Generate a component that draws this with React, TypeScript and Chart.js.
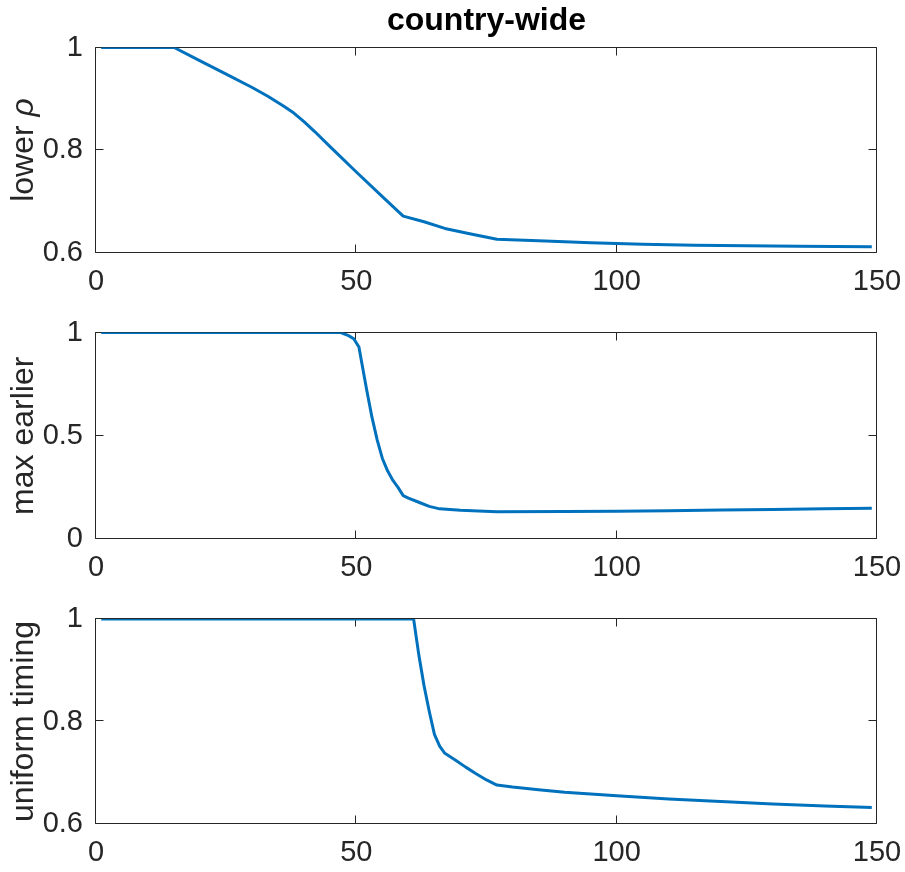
import React, { useEffect, useRef } from "react";
import { Chart, registerables } from "chart.js";

Chart.register(...registerables);

// Shared x axis (days)
const xTicks = [0, 50, 100, 150];

// lower rho
const lowerRhoX = [1, 15, 20, 25, 30, 33, 36, 38, 40, 42, 45, 50, 55, 59, 63, 67, 72, 77, 85, 95, 105, 115, 125, 135, 149];
const lowerRhoY = [1, 1, 0.974, 0.948, 0.922, 0.905, 0.886, 0.872, 0.855, 0.836, 0.806, 0.757, 0.709, 0.671, 0.66, 0.647, 0.636, 0.626, 0.623, 0.619, 0.616, 0.614, 0.613, 0.612, 0.611];
const lowerRhoTicks = [0.6, 0.8, 1];

// max earlier
const maxEarlierX = [1, 47, 48.5, 49.5, 50.5, 51, 52, 53, 54, 55, 56, 57, 58, 59, 60, 62, 64, 66, 70, 77, 90, 100, 110, 120, 130, 140, 149];
const maxEarlierY = [1, 1, 0.985, 0.97, 0.93, 0.86, 0.72, 0.59, 0.48, 0.39, 0.33, 0.285, 0.25, 0.21, 0.198, 0.178, 0.158, 0.146, 0.139, 0.132, 0.133, 0.134, 0.137, 0.14, 0.143, 0.146, 0.149];
const maxEarlierTicks = [0, 0.5, 1];

// uniform timing
const uniformX = [1, 61, 62, 63, 64, 65, 66, 67, 69, 71, 73, 75, 77, 80, 85, 90, 100, 110, 120, 130, 140, 149];
const uniformY = [1, 1, 0.93, 0.87, 0.82, 0.775, 0.752, 0.738, 0.725, 0.711, 0.698, 0.686, 0.676, 0.672, 0.667, 0.662, 0.655, 0.649, 0.644, 0.639, 0.635, 0.632];
const uniformTicks = [0.6, 0.8, 1];

const INK = "#262626";
const LINE = "#0072BD";
const FONT = "'Liberation Sans', Arial, Helvetica, sans-serif";

type LabelPart = { text: string; italic?: boolean };

type Panel = {
  xs: number[];
  ys: number[];
  yMin: number;
  yMax: number;
  yTicks: number[];
  label: LabelPart[];
  title?: string;
  top: number; // canvas offset on the page
  height: number; // canvas height
  areaTop: number; // plot area top inside the canvas
  areaBottom: number; // plot area bottom inside the canvas
};

const panels: Panel[] = [
  {
    xs: lowerRhoX,
    ys: lowerRhoY,
    yMin: 0.6,
    yMax: 1,
    yTicks: lowerRhoTicks,
    label: [{ text: "lower " }, { text: "ρ", italic: true }],
    title: "country-wide",
    top: 0,
    height: 300,
    areaTop: 47.5,
    areaBottom: 252.5,
  },
  {
    xs: maxEarlierX,
    ys: maxEarlierY,
    yMin: 0,
    yMax: 1,
    yTicks: maxEarlierTicks,
    label: [{ text: "max earlier" }],
    top: 300,
    height: 290,
    areaTop: 32.5,
    areaBottom: 239,
  },
  {
    xs: uniformX,
    ys: uniformY,
    yMin: 0.6,
    yMax: 1,
    yTicks: uniformTicks,
    label: [{ text: "uniform timing" }],
    top: 590,
    height: 282,
    areaTop: 29,
    areaBottom: 234,
  },
];

const WIDTH = 905;
const AREA_LEFT = 96;
const AREA_RIGHT = 877;
const TICK_LEN = 8;

// Axes box with inward tick marks on all four sides
const boxPlugin = {
  id: "matlabBox",
  beforeDatasetsDraw(chart: any) {
    const { ctx, chartArea } = chart;
    const l = Math.round(chartArea.left) - 0.5;
    const r = Math.round(chartArea.right) - 0.5;
    const t = Math.round(chartArea.top) - 0.5;
    const b = Math.round(chartArea.bottom) - 0.5;
    ctx.save();
    ctx.strokeStyle = INK;
    ctx.lineWidth = 1;
    ctx.beginPath();
    ctx.rect(l, t, r - l, b - t);
    const xs = chart.scales.x;
    xs.ticks.forEach((tk: any) => {
      const px = Math.round(xs.getPixelForValue(tk.value)) - 0.5;
      ctx.moveTo(px, b);
      ctx.lineTo(px, b - TICK_LEN);
      ctx.moveTo(px, t);
      ctx.lineTo(px, t + TICK_LEN);
    });
    const ys = chart.scales.y;
    ys.ticks.forEach((tk: any) => {
      const py = Math.round(ys.getPixelForValue(tk.value)) - 0.5;
      ctx.moveTo(l, py);
      ctx.lineTo(l + TICK_LEN, py);
      ctx.moveTo(r, py);
      ctx.lineTo(r - TICK_LEN, py);
    });
    ctx.stroke();
    ctx.restore();
  },
};

// Rotated y label, allowing italic pieces (e.g. the Greek symbol)
const makeLabelPlugin = (parts: LabelPart[]) => ({
  id: "yLabel",
  afterDraw(chart: any) {
    const { ctx, chartArea } = chart;
    const cy = (chartArea.top + chartArea.bottom) / 2;
    const fontFor = (p: LabelPart) => `${p.italic ? "italic " : ""}32px ${FONT}`;
    ctx.save();
    let total = 0;
    const widths = parts.map((p) => {
      ctx.font = fontFor(p);
      const w = ctx.measureText(p.text).width;
      total += w;
      return w;
    });
    ctx.translate(32.5, cy);
    ctx.rotate(-Math.PI / 2);
    ctx.fillStyle = INK;
    ctx.textBaseline = "alphabetic";
    ctx.textAlign = "left";
    let x = -total / 2;
    parts.forEach((p, i) => {
      ctx.font = fontFor(p);
      ctx.fillText(p.text, x, 0);
      x += widths[i];
    });
    ctx.restore();
  },
});

function PanelChart({ panel }: { panel: Panel }) {
  const ref = useRef<HTMLCanvasElement | null>(null);

  useEffect(() => {
    if (!ref.current) return;
    const tickFont = { family: FONT, size: 29 };
    const chart = new Chart(ref.current, {
      type: "line",
      data: {
        datasets: [
          {
            data: panel.xs.map((x, i) => ({ x, y: panel.ys[i] })),
            borderColor: LINE,
            borderWidth: 3,
            pointRadius: 0,
            tension: 0,
            fill: false,
            borderJoinStyle: "round",
          },
        ],
      },
      options: {
        animation: false,
        responsive: false,
        maintainAspectRatio: false,
        layout: {
          padding: {
            top: panel.title ? 0 : panel.areaTop,
            right: WIDTH - AREA_RIGHT,
            left: 0,
            bottom: 0,
          },
        },
        plugins: {
          legend: { display: false },
          tooltip: { enabled: false },
          title: panel.title
            ? {
                display: true,
                text: panel.title,
                fullSize: false,
                color: "#000",
                font: { family: FONT, size: 32, weight: "bold" },
                padding: { top: 1.5, bottom: panel.areaTop - 38.4 - 1.5 },
              }
            : { display: false },
        },
        scales: {
          x: {
            type: "linear",
            position: "bottom",
            min: 0,
            max: 150,
            grid: { display: false, drawTicks: false },
            border: { display: false },
            ticks: {
              color: INK,
              font: tickFont,
              padding: 12,
              maxRotation: 0,
              autoSkip: false,
              callback: (v: any) => String(v),
            },
            afterBuildTicks: (s: any) => {
              s.ticks = xTicks.map((v) => ({ value: v }));
            },
            afterFit: (s: any) => {
              s.height = panel.height - panel.areaBottom;
              s.paddingLeft = 0;
              s.paddingRight = 0;
            },
          },
          y: {
            type: "linear",
            position: "left",
            min: panel.yMin,
            max: panel.yMax,
            grid: { display: false, drawTicks: false },
            border: { display: false },
            ticks: {
              color: INK,
              font: tickFont,
              padding: 13,
              callback: (v: any) => String(v),
            },
            afterBuildTicks: (s: any) => {
              s.ticks = panel.yTicks.map((v) => ({ value: v }));
            },
            afterFit: (s: any) => {
              s.width = AREA_LEFT;
              s.paddingTop = 0;
              s.paddingBottom = 0;
            },
          },
        },
      } as any,
      plugins: [boxPlugin, makeLabelPlugin(panel.label)],
    });
    return () => chart.destroy();
  }, [panel]);

  return (
    <canvas
      ref={ref}
      width={WIDTH}
      height={panel.height}
      style={{ position: "absolute", left: 0, top: panel.top, width: WIDTH, height: panel.height }}
    />
  );
}

export default function App() {
  return (
    <div
      style={{
        position: "absolute",
        left: 0,
        top: 0,
        width: WIDTH,
        height: 872,
        background: "#fff",
        overflow: "hidden",
      }}
    >
      {panels.map((p, i) => (
        <PanelChart key={i} panel={p} />
      ))}
    </div>
  );
}
